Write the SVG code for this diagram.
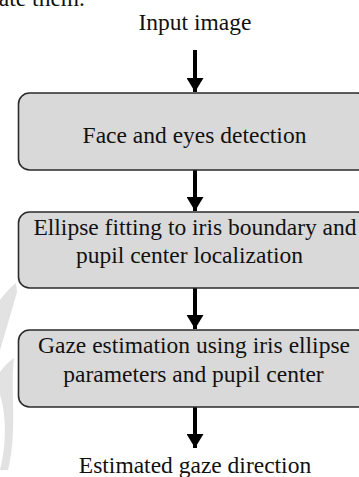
<svg xmlns="http://www.w3.org/2000/svg" width="359" height="477" viewBox="0 0 359 477">
<style>
  text { font-family: "Liberation Serif", "Times New Roman", serif; font-size: 23.5px; fill: #111; }
  .box { fill: #d9d9d9; stroke: #2b2b2b; stroke-width: 1.6; }
  .shaft { stroke: #000; stroke-width: 4; fill: none; }
  .wm { fill: #e2e2e2; }
</style>
<defs>
  <marker id="ah" markerUnits="userSpaceOnUse" markerWidth="14" markerHeight="17" refX="14" refY="8.5" orient="auto" viewBox="0 0 14 17">
    <path d="M0,0 L14,8.5 L0,17 Z" fill="#000"/>
  </marker>
</defs>
<rect width="359" height="477" fill="#fff"/>
<g id="watermark">
  <path class="wm" d="M0,300 C6,292 12,286 16,283 L17,292 C12,310 6,330 0,350 Z"/>
  <path class="wm" d="M0,372 C6,364 11,360 14,358 C10,390 18,430 8,470 L0,470 C8,440 5,410 0,395 Z"/>
</g>
<text x="85" y="6" text-anchor="end">ate them.</text>
<g id="input"><text x="195" y="30" text-anchor="middle">Input image</text></g>
<g id="connectors">
  <line class="shaft" x1="195" y1="50" x2="195" y2="92" marker-end="url(#ah)"/>
  <line class="shaft" x1="195" y1="170" x2="195" y2="211" marker-end="url(#ah)"/>
  <line class="shaft" x1="195" y1="288" x2="195" y2="329" marker-end="url(#ah)"/>
  <line class="shaft" x1="195" y1="407" x2="195" y2="448" marker-end="url(#ah)"/>
</g>
<g id="box1">
  <rect class="box" x="18.5" y="93" width="350" height="77" rx="11"/>
  <text x="194.5" y="143" text-anchor="middle">Face and eyes detection</text>
</g>
<g id="box2">
  <rect class="box" x="18.5" y="212" width="350" height="76" rx="11"/>
  <text x="195" y="235" text-anchor="middle">Ellipse fitting to iris boundary and</text>
  <text x="189.5" y="263" text-anchor="middle">pupil center localization</text>
</g>
<g id="box3">
  <rect class="box" x="18.5" y="330" width="350" height="77" rx="11"/>
  <text x="194" y="353" text-anchor="middle">Gaze estimation using iris ellipse</text>
  <text x="193.5" y="382" text-anchor="middle">parameters and pupil center</text>
</g>
<g id="output"><text x="195" y="473" text-anchor="middle">Estimated gaze direction</text></g>
</svg>
